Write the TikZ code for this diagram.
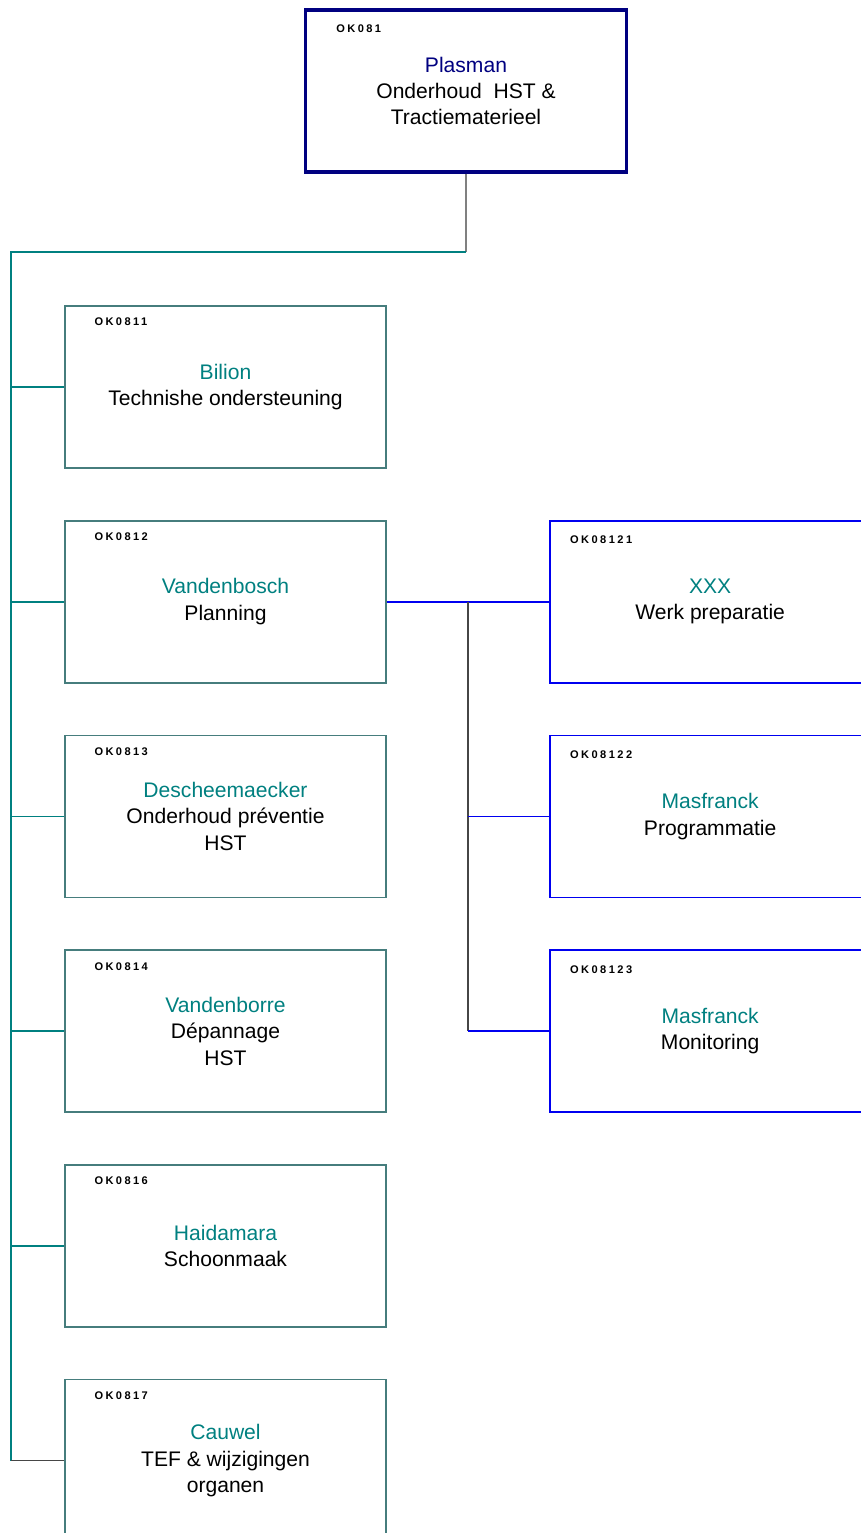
\documentclass[tikz,border=0pt]{standalone}
\usepackage{fontspec}
\setmainfont{Liberation Sans}
\newfontfamily\codefont[LetterSpace=22]{Liberation Sans}
\usetikzlibrary{positioning,calc}
\definecolor{navybox}{RGB}{0,0,128}
\definecolor{tealline}{RGB}{0,128,128}
\definecolor{boxedge}{RGB}{70,125,125}
\definecolor{subblue}{RGB}{0,0,240}
\definecolor{darkline}{RGB}{70,70,70}
\definecolor{greyline}{RGB}{128,128,128}

\begin{document}
\begin{tikzpicture}[x=0.02cm, y=-0.02cm, font=\fontsize{12}{15}\selectfont,
  unit/.style={draw=boxedge, line width=1pt, minimum width=6.42cm, minimum height=3.24cm, align=center, inner sep=0pt},
  topunit/.style={unit, draw=navybox, line width=1.8pt},
  subunit/.style={unit, draw=subblue},
  code/.style={anchor=west, inner sep=0pt, font=\codefont\bfseries\fontsize{6.3}{7}\selectfont},
  tealconn/.style={draw=tealline, line width=1pt},
  blueconn/.style={draw=subblue, line width=1pt},
  darkconn/.style={draw=darkline, line width=1pt},
  greyconn/.style={draw=greyline, line width=1pt}]
  \useasboundingbox (0,0) rectangle (861,1533);
  \clip (0,0) rectangle (861,1533);

  % top of the tree
  \node[topunit] (top) at (466,91) {\textcolor{navybox}{Plasman}\\Onderhoud \ HST \&\\Tractiematerieel};
  \node[code] (ctop) at ([shift={(32,20)}]top.north west) {OK081};

  % left column
  \node[unit] (b1) at (225.5,387) {\textcolor{tealline}{Bilion}\\Technishe ondersteuning};
  \node[unit, below=1.02cm of b1] (b2) {\textcolor{tealline}{Vandenbosch}\\Planning};
  \node[unit, below=1.02cm of b2] (b3) {\textcolor{tealline}{Descheemaecker}\\Onderhoud préventie\\HST};
  \node[unit, below=1.02cm of b3] (b4) {\textcolor{tealline}{Vandenborre}\\Dépannage\\HST};
  \node[unit, below=1.02cm of b4] (b5) {\textcolor{tealline}{Haidamara}\\Schoonmaak};
  \node[unit, below=1.02cm of b5] (b6) {\textcolor{tealline}{Cauwel}\\TEF \& wijzigingen\\organen};
  \node[code] (cb1) at ([shift={(30,17)}]b1.north west) {OK0811};
  \node[code] (cb2) at ([shift={(30,17)}]b2.north west) {OK0812};
  \node[code] (cb3) at ([shift={(30,17)}]b3.north west) {OK0813};
  \node[code] (cb4) at ([shift={(30,17)}]b4.north west) {OK0814};
  \node[code] (cb5) at ([shift={(30,17)}]b5.north west) {OK0816};
  \node[code] (cb6) at ([shift={(30,17)}]b6.north west) {OK0817};

  % right column under Planning
  \node[subunit, right=3.24cm of b2] (r1) {\textcolor{tealline}{XXX}\\Werk preparatie};
  \node[subunit, below=1.02cm of r1] (r2) {\textcolor{tealline}{Masfranck}\\Programmatie};
  \node[subunit, below=1.02cm of r2] (r3) {\textcolor{tealline}{Masfranck}\\Monitoring};
  \node[code] (cr1) at ([shift={(21,20)}]r1.north west) {OK08121};
  \node[code] (cr2) at ([shift={(21,20)}]r2.north west) {OK08122};
  \node[code] (cr3) at ([shift={(21,20)}]r3.north west) {OK08123};

  % connectors
  \coordinate (bus) at (11,252);
  \draw[greyconn] (top.south) -- (top.south |- bus);
  \draw[tealconn] (top.south |- bus) -- (bus) -- (bus |- b6.west);
  \foreach \b in {b1,b2,b3,b4,b5}
    \draw[tealconn] (bus |- \b.west) -- (\b.west);
  \draw[darkconn] (bus |- b6.west) -- (b6.west);

  \coordinate (fork) at ($(b2.east)!0.5!(r1.west)$);
  \draw[blueconn] (b2.east) -- (r1.west);
  \draw[darkconn] (fork) -- (fork |- r3.west);
  \draw[blueconn] (fork |- r2.west) -- (r2.west);
  \draw[blueconn] (fork |- r3.west) -- (r3.west);
\end{tikzpicture}
\end{document}
